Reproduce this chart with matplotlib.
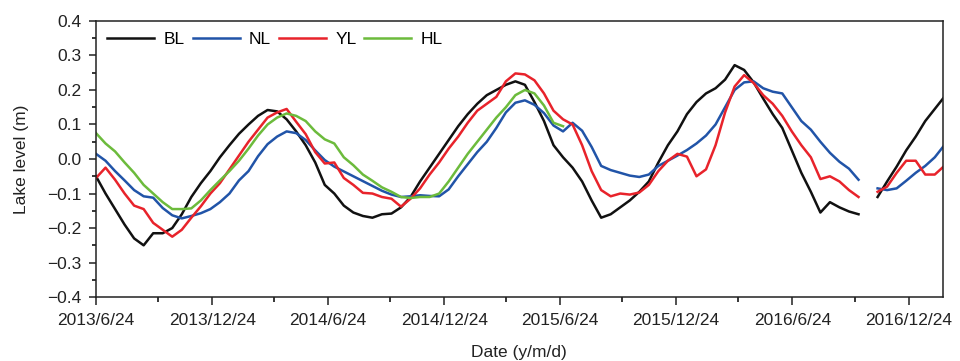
import matplotlib
matplotlib.use("Agg")
import matplotlib.pyplot as plt
import numpy as np
import pandas as pd
from matplotlib.ticker import FuncFormatter

plt.rcParams["font.family"] = ["Liberation Sans", "DejaVu Sans"]

# lake level readings, one value every 15 days from 2013/6/24 (nan = no record)
start_date = "2013-06-24"
n_samples = 90
nan = np.nan

bl_level = [
    -0.05, -0.10, -0.145, -0.19, -0.23, -0.25, -0.215, -0.215, -0.20, -0.16,
    -0.11, -0.07, -0.035, 0.005, 0.04, 0.073, 0.10, 0.125, 0.142, 0.138,
    0.115, 0.08, 0.04, -0.01, -0.075, -0.10, -0.135, -0.155, -0.165, -0.17,
    -0.16, -0.158, -0.14, -0.11, -0.065, -0.025, 0.015, 0.055, 0.095, 0.13,
    0.16, 0.185, 0.20, 0.215, 0.225, 0.215, 0.165, 0.11, 0.04, 0.005,
    -0.025, -0.065, -0.12, -0.17, -0.16, -0.14, -0.12, -0.095, -0.065, -0.01,
    0.04, 0.08, 0.13, 0.165, 0.19, 0.205, 0.23, 0.272, 0.258, 0.222,
    0.175, 0.13, 0.09, 0.025, -0.04, -0.095, -0.155, -0.125, -0.14, -0.152,
    -0.16, nan, -0.11, -0.065, -0.022, 0.025, 0.065, 0.11, 0.145, 0.18,
]

nl_level = [
    0.015, -0.005, -0.035, -0.062, -0.09, -0.108, -0.112, -0.142, -0.163, -0.172,
    -0.165, -0.157, -0.145, -0.125, -0.10, -0.062, -0.035, 0.008, 0.043, 0.065,
    0.08, 0.075, 0.055, 0.025, -0.003, -0.022, -0.036, -0.05, -0.064, -0.078,
    -0.092, -0.103, -0.11, -0.108, -0.105, -0.107, -0.108, -0.088, -0.05, -0.015,
    0.02, 0.05, 0.09, 0.135, 0.163, 0.17, 0.157, 0.133, 0.097, 0.08,
    0.105, 0.082, 0.035, -0.02, -0.032, -0.04, -0.048, -0.052, -0.045, -0.02,
    -0.005, 0.01, 0.026, 0.045, 0.068, 0.10, 0.15, 0.20, 0.222, 0.225,
    0.205, 0.195, 0.19, 0.15, 0.11, 0.085, 0.05, 0.018, -0.008, -0.028,
    -0.06, nan, -0.085, -0.09, -0.085, -0.063, -0.04, -0.02, 0.005, 0.04,
]

yl_level = [
    -0.055, -0.025, -0.06, -0.10, -0.135, -0.145, -0.185, -0.205, -0.225, -0.205,
    -0.17, -0.137, -0.10, -0.07, -0.03, 0.01, 0.05, 0.085, 0.12, 0.135,
    0.145, 0.108, 0.072, 0.02, -0.013, -0.01, -0.055, -0.075, -0.098, -0.10,
    -0.11, -0.115, -0.138, -0.115, -0.085, -0.045, -0.01, 0.03, 0.065, 0.105,
    0.14, 0.16, 0.18, 0.225, 0.248, 0.245, 0.228, 0.19, 0.14, 0.115,
    0.10, 0.04, -0.035, -0.09, -0.108, -0.10, -0.103, -0.097, -0.075, -0.035,
    -0.005, 0.015, 0.007, -0.05, -0.03, 0.04, 0.135, 0.21, 0.243, 0.22,
    0.185, 0.16, 0.125, 0.08, 0.04, 0.005, -0.058, -0.05, -0.065, -0.09,
    -0.11, nan, -0.095, -0.08, -0.04, -0.005, -0.005, -0.045, -0.045, -0.02,
]

hl_level = [
    0.075, 0.045, 0.022, -0.01, -0.04, -0.075, -0.10, -0.125, -0.145, -0.145,
    -0.143, -0.12, -0.09, -0.062, -0.035, -0.005, 0.03, 0.068, 0.10, 0.12,
    0.132, 0.125, 0.11, 0.08, 0.057, 0.045, 0.005, -0.018, -0.045, -0.063,
    -0.082, -0.095, -0.11, -0.113, -0.11, -0.11, -0.10, -0.065, -0.025, 0.015,
    0.05, 0.085, 0.12, 0.15, 0.185, 0.20, 0.19, 0.155, 0.105, 0.095,
] + [nan] * 40

lakes = ["BL", "NL", "YL", "HL"]
colors = ["#111111", "#2154a8", "#e8232b", "#6cbb3c"]
levels = [bl_level, nl_level, yl_level, hl_level]

major_dates = ["2013-06-24", "2013-12-24", "2014-06-24", "2014-12-24",
               "2015-06-24", "2015-12-24", "2016-06-24", "2016-12-24"]
minor_dates = ["2013-09-30", "2014-03-31", "2014-09-30", "2015-03-31",
               "2015-09-30", "2016-03-31", "2016-09-30"]

dates = pd.date_range(start_date, periods=n_samples, freq="15D")

fig = plt.figure(figsize=(9.6, 3.61), dpi=100)
ax = fig.add_axes([0.1, 0.177, 0.882, 0.765])

for name, color, values in zip(lakes, colors, levels):
    ax.plot(dates, values, color=color, lw=1.8, label=name)

ax.set_xlim(pd.Timestamp("2013-06-24"), pd.Timestamp("2017-02-15 12:00"))
ax.set_ylim(-0.4, 0.4)

major = pd.to_datetime(major_dates)
ax.set_xticks(major)
ax.set_xticklabels([f"{d.year}/{d.month}/{d.day}" for d in major])
ax.set_xticks(pd.to_datetime(minor_dates), minor=True)
ax.set_yticks(np.arange(-0.4, 0.41, 0.1))
ax.set_yticks(np.arange(-0.4, 0.41, 0.05), minor=True)
ax.yaxis.set_major_formatter(
    FuncFormatter(lambda v, _: f"{round(v, 1) + 0.0:.1f}".replace("-", "\u2212")))

ax.tick_params(axis="both", which="major", direction="out", labelsize=12.5,
               colors="#222222", width=1.1)
ax.tick_params(axis="x", which="major", length=6, pad=5.5)
ax.tick_params(axis="y", which="major", length=5, pad=5.5)
ax.tick_params(axis="x", which="minor", direction="out", length=3.6, width=1.1)
ax.tick_params(axis="y", which="minor", direction="out", length=3, width=1.1)
for spine in ax.spines.values():
    spine.set_linewidth(1.1)
    spine.set_color("#222222")

ax.set_ylabel("Lake level (m)", fontsize=12.5, color="#222222", labelpad=13)
ax.set_xlabel("Date (y/m/d)", fontsize=12.5, color="#222222", labelpad=12)

ax.legend(loc="upper left", ncol=4, frameon=False, fontsize=12.5,
          handlelength=2.7, handletextpad=0.55, columnspacing=0.45,
          borderaxespad=0.25, bbox_to_anchor=(0.0, 1.0))

fig.savefig("out.png", dpi=100)
